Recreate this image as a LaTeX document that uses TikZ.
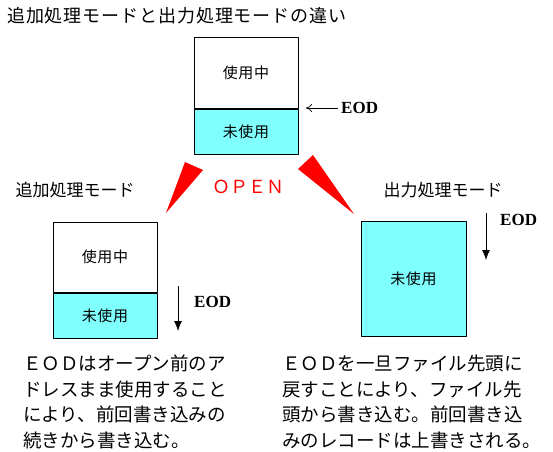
\documentclass[tikz,border=0pt]{standalone}
\usepackage{fontspec}
\setmainfont{Noto Sans CJK JP}
\newfontfamily\eodfont{Liberation Serif}
\usetikzlibrary{arrows.meta}
\definecolor{unusedcyan}{HTML}{80FFFF}
\tikzset{
  cell/.style={draw,line width=1pt,inner sep=0pt,minimum width=104pt,
    font=\fontsize{15}{15}\selectfont\addfontfeature{LetterSpace=4}},
  freecell/.style={cell,fill=unusedcyan},
  modelabel/.style={inner sep=0pt,font=\fontsize{17}{17}\selectfont},
  eodlabel/.style={inner sep=3pt,font=\eodfont\bfseries\fontsize{17}{17}\selectfont},
  notetext/.style={align=left,anchor=north west,inner sep=0pt,
    font=\fontsize{18.5}{25.5}\selectfont},
  downarrow/.style={line width=0.8pt,-{Latex[length=10pt,width=8pt]}}
}
\begin{document}
\begin{tikzpicture}[x=1pt,y=-1pt,line join=round]
  \useasboundingbox (0,0) rectangle (553,451);
  \node[anchor=west,inner sep=0pt,font=\fontsize{18}{18}\selectfont\addfontfeature{LetterSpace=5}] (title) at (7,16) {追加処理モードと出力処理モードの違い};
  \node[cell,minimum height=71pt] (topused) at (246,72.5) {使用中};
  \node[freecell,minimum height=45pt,anchor=north] (topfree) at (topused.south) {未使用};
  \node[eodlabel,anchor=west] (eodtop) at (338,108) {EOD};
  \coordinate (toptip) at (306,108);
  \draw[line width=0.7pt,-{To[length=6pt,width=8pt]}] (eodtop.west) -- (toptip);
  \fill[red] (185,162) -- (203,170) -- (166,213) -- cycle;
  \fill[red] (298,169) -- (313,155) -- (354,214) -- cycle;
  \node[text=red,inner sep=0pt,font=\fontsize{18}{18}\selectfont] (open) at (248,187) {ＯＰＥＮ};
  \node[modelabel] (appendmode) at (75,190) {追加処理モード};
  \node[modelabel] (outputmode) at (443,190) {出力処理モード};
  \node[cell,minimum height=70pt] (leftused) at (105,257) {使用中};
  \node[freecell,minimum height=45pt,anchor=north] (leftfree) at (leftused.south) {未使用};
  \coordinate (leftstart) at (178,286);
  \coordinate (leftend) at (178,331);
  \draw[downarrow] (leftstart) -- (leftend);
  \node[eodlabel,anchor=west] (eodleft) at (191,302) {EOD};
  \node[freecell,minimum width=105pt,minimum height=115pt] (rightfree) at (413.5,278.5) {未使用};
  \coordinate (rightstart) at (486,213);
  \coordinate (rightend) at (486,260);
  \draw[downarrow] (rightstart) -- (rightend);
  \node[eodlabel,anchor=west] (eodright) at (497,220) {EOD};
  \node[notetext] (leftnote) at (23,355) {ＥＯＤはオープン前のア\\ドレスまま使用すること\\により、前回書き込みの\\続きから書き込む。};
  \node[notetext] (rightnote) at (282,355) {ＥＯＤを一旦ファイル先頭に\\戻すことにより、ファイル先\\頭から書き込む。前回書き込\\みのレコードは上書きされる。};
\end{tikzpicture}
\end{document}
